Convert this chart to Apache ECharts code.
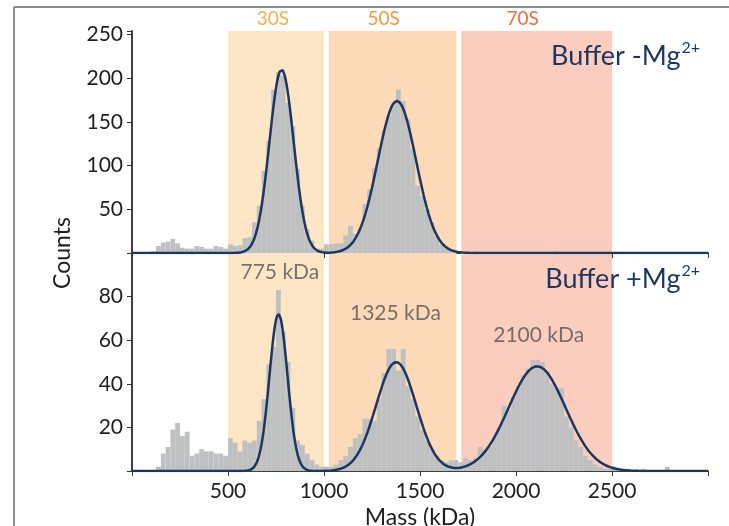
<!DOCTYPE html>
<html><head><meta charset="utf-8">
<script src="https://cdn.jsdelivr.net/npm/echarts@6/dist/echarts.min.js"></script>
<style>html,body{margin:0;padding:0;background:#fff}#c{width:729px;height:526px}</style>
</head><body><div id="c"></div>
<script>
// ---- data ----
const binWidth = 25; // kDa, bins start at 0
const countsNoMg = [0,0,0,0,2,8,12,13,16,11,6,5,5,8,7,5,5,8,7,5,10,8,9,17,18,35,54,94,128,187,207,203,172,145,96,54,27,14,5,5,
  10,10,11,11,20,31,22,28,56,73,97,120,140,157,172,187,174,153,119,77,65,50,35,19,10,5,3,2,1,0,
  1,2,1,0,0,1,0,0,1,0,1,0,0,1,0,0,0,1,2,0,0,1,0,1,0,0,0,1,0,0,1,0,0,0,0,0,0,0,0,0,0,1,0,0,0,0,0,0,0,0];
const countsMg = [0,0,0,0,0,2,8,11,19,22,16,18,7,8,10,9,9,8,8,7,15,13,9,14,13,14,23,33,49,57,83,64,50,29,14,12,8,5,3,2,
  2,2,3,5,7,11,15,17,24,24,23,33,45,56,56,46,56,39,33,25,19,14,10,7,5,4,5,5,4,6,
  5,6,11,10,11,15,20,30,28,34,39,44,47,51,51,50,46,40,38,38,25,20,14,11,7,5,3,2,1,1,
  2,1,0,1,0,0,1,0,0,0,0,2,0,0,0,0,0,0,0,0];
// Gaussian fit parameters
const fitNoMgAmp = [210, 174], fitNoMgCenter = [779, 1380], fitNoMgWidth = [63, 100];
const fitMgAmp = [72, 50, 48], fitMgCenter = [763, 1376, 2110], fitMgWidth = [47, 104, 148];
// bands
const bandNames = ['30S','50S','70S'];
const bandStart = [500, 1025, 1715];
const bandEnd = [1000, 1690, 2500];
const bandFill = ['#FCE6C6','#FCDAB8','#FACDBE'];
const bandText = ['#F5B04A','#F39A3B','#EE6C40'];
const bandLabelShift = [-3,-9,-14];
// annotations
const peakLabels = ['775 kDa','1325 kDa','2100 kDa'];
const peakLabelX = [770, 1372, 2118];
const peakLabelY = [91, 72.5, 62.5];
const xTicks = [500,1000,1500,2000,2500];

// ---- build ----
function bars(counts){ return counts.map((c,i)=>[i*binWidth,(i+1)*binWidth,c]); }
function fitCurve(A,M,S){
  const pts=[]; for(let x=0;x<=3000;x+=5){let y=0;for(let k=0;k<A.length;k++){y+=A[k]*Math.exp(-0.5*Math.pow((x-M[k])/S[k],2));}pts.push([x,y]);} return pts;
}
const FONT = 'Lato';
const INK = '#1e1e1e';
const NAVY = '#1C365F';
const TICKFS = 21;
function renderBar(params, api){
  const p0 = api.coord([api.value(0),0]);
  const p1 = api.coord([api.value(1),api.value(2)]);
  return {type:'rect', shape:{x:p0[0], y:p1[1], width:p1[0]-p0[0], height:p0[1]-p1[1]}, style:{fill:'#BEC0C2'}};
}
function bandArea(withLabel){
  return {silent:true, data: bandNames.map((n,i)=>[
    {name:n, xAxis:bandStart[i], itemStyle:{color:bandFill[i]},
     label:{show:withLabel, position:'top', distance:3, offset:[bandLabelShift[i],0], color:bandText[i], fontSize:19, fontFamily:FONT}},
    {xAxis:bandEnd[i]}])};
}
const lineAx = {lineStyle:{color:'#333', width:1.5}};
const chart = echarts.init(document.getElementById('c'));
chart.setOption({
  animation:false,
  grid:[{left:132, right:21, top:31, height:222, containLabel:false, outerBoundsMode:'none'},
        {left:132, right:21, top:253, height:218, containLabel:false, outerBoundsMode:'none'}],
  xAxis:[
    {gridIndex:0, type:'value', min:0, max:3000, interval:500, axisLine:lineAx, axisTick:{length:5, lineStyle:{color:'#333'}}, axisLabel:{show:false}, splitLine:{show:false}},
    {gridIndex:0, type:'value', position:'top', min:0, max:3000, axisLine:lineAx, axisTick:{show:false}, axisLabel:{show:false}, splitLine:{show:false}},
    {gridIndex:1, type:'value', min:0, max:3000, interval:500, axisLine:lineAx, axisTick:{length:5, lineStyle:{color:'#333'}},
     axisLabel:{color:INK, fontSize:TICKFS, fontFamily:FONT, margin:10, formatter:v=>xTicks.indexOf(v)>=0?String(v):''}, splitLine:{show:false},
     name:'Mass (kDa)', nameLocation:'middle', nameGap:35, nameTextStyle:{color:INK, fontSize:23, fontFamily:FONT}},
    {gridIndex:1, type:'value', position:'top', min:0, max:3000, axisLine:lineAx, axisTick:{show:false}, axisLabel:{show:false}, splitLine:{show:false}}
  ],
  yAxis:[
    {gridIndex:0, type:'value', min:0, max:254, interval:50, axisLine:lineAx, axisTick:{length:5, lineStyle:{color:'#333'}},
     axisLabel:{color:INK, fontSize:TICKFS, fontFamily:FONT, margin:9, formatter:v=>(v>0&&v%50===0)?String(v):''}, splitLine:{show:false}},
    {gridIndex:0, type:'value', position:'right', min:0, max:1, axisLine:lineAx, axisTick:{show:false}, axisLabel:{show:false}, splitLine:{show:false}},
    {gridIndex:1, type:'value', min:0, max:100, interval:20, axisLine:lineAx, axisTick:{length:5, lineStyle:{color:'#333'}},
     axisLabel:{color:INK, fontSize:TICKFS, fontFamily:FONT, margin:9, formatter:v=>(v>0&&v<100)?String(v):''}, splitLine:{show:false}},
    {gridIndex:1, type:'value', position:'right', min:0, max:1, axisLine:lineAx, axisTick:{show:false}, axisLabel:{show:false}, splitLine:{show:false}}
  ],
  series:[
    {type:'line', xAxisIndex:0, yAxisIndex:0, data:[], z:1, markArea:bandArea(true)},
    {type:'line', xAxisIndex:2, yAxisIndex:2, data:[], z:1, markArea:bandArea(false)},
    {type:'custom', xAxisIndex:0, yAxisIndex:0, z:2, renderItem:renderBar, data:bars(countsNoMg)},
    {type:'custom', xAxisIndex:2, yAxisIndex:2, z:2, renderItem:renderBar, data:bars(countsMg)},
    {type:'line', xAxisIndex:0, yAxisIndex:0, z:3, symbol:'none', lineStyle:{color:NAVY, width:2.5}, data:fitCurve(fitNoMgAmp,fitNoMgCenter,fitNoMgWidth)},
    {type:'line', xAxisIndex:2, yAxisIndex:2, z:3, symbol:'none', lineStyle:{color:NAVY, width:2.5}, data:fitCurve(fitMgAmp,fitMgCenter,fitMgWidth)},
    {type:'scatter', xAxisIndex:2, yAxisIndex:2, z:4, symbolSize:0, silent:true,
     data:peakLabels.map((t,i)=>({name:t, value:[peakLabelX[i], peakLabelY[i]]})),
     label:{show:true, position:'inside', formatter:p=>p.name, color:'#555', fontSize:21, fontFamily:FONT}}
  ],
  graphic:[
    {type:'line', shape:{x1:14, y1:7, x2:14, y2:526}, style:{stroke:'#8c8c8c', lineWidth:2}},
    {type:'line', shape:{x1:14, y1:7, x2:729, y2:7}, style:{stroke:'#8c8c8c', lineWidth:2}},
    {type:'text', x:63, y:253, rotation:Math.PI/2, style:{text:'Counts', fill:INK, fontSize:23, fontFamily:FONT, align:'center', verticalAlign:'middle'}},
    {type:'text', x:700, y:56, z:10, style:{text:'{a|Buffer -Mg}{b|2+}', align:'right', verticalAlign:'middle',
      rich:{a:{fill:NAVY, fontSize:27, fontFamily:FONT, lineHeight:32}, b:{fill:NAVY, fontSize:16, fontFamily:FONT, lineHeight:32, verticalAlign:'top', padding:[0,0,13,1]}}}},
    {type:'text', x:700, y:279, z:10, style:{text:'{a|Buffer +Mg}{b|2+}', align:'right', verticalAlign:'middle',
      rich:{a:{fill:NAVY, fontSize:27, fontFamily:FONT, lineHeight:32}, b:{fill:NAVY, fontSize:16, fontFamily:FONT, lineHeight:32, verticalAlign:'top', padding:[0,0,13,1]}}}}
  ]
});
</script></body></html>
